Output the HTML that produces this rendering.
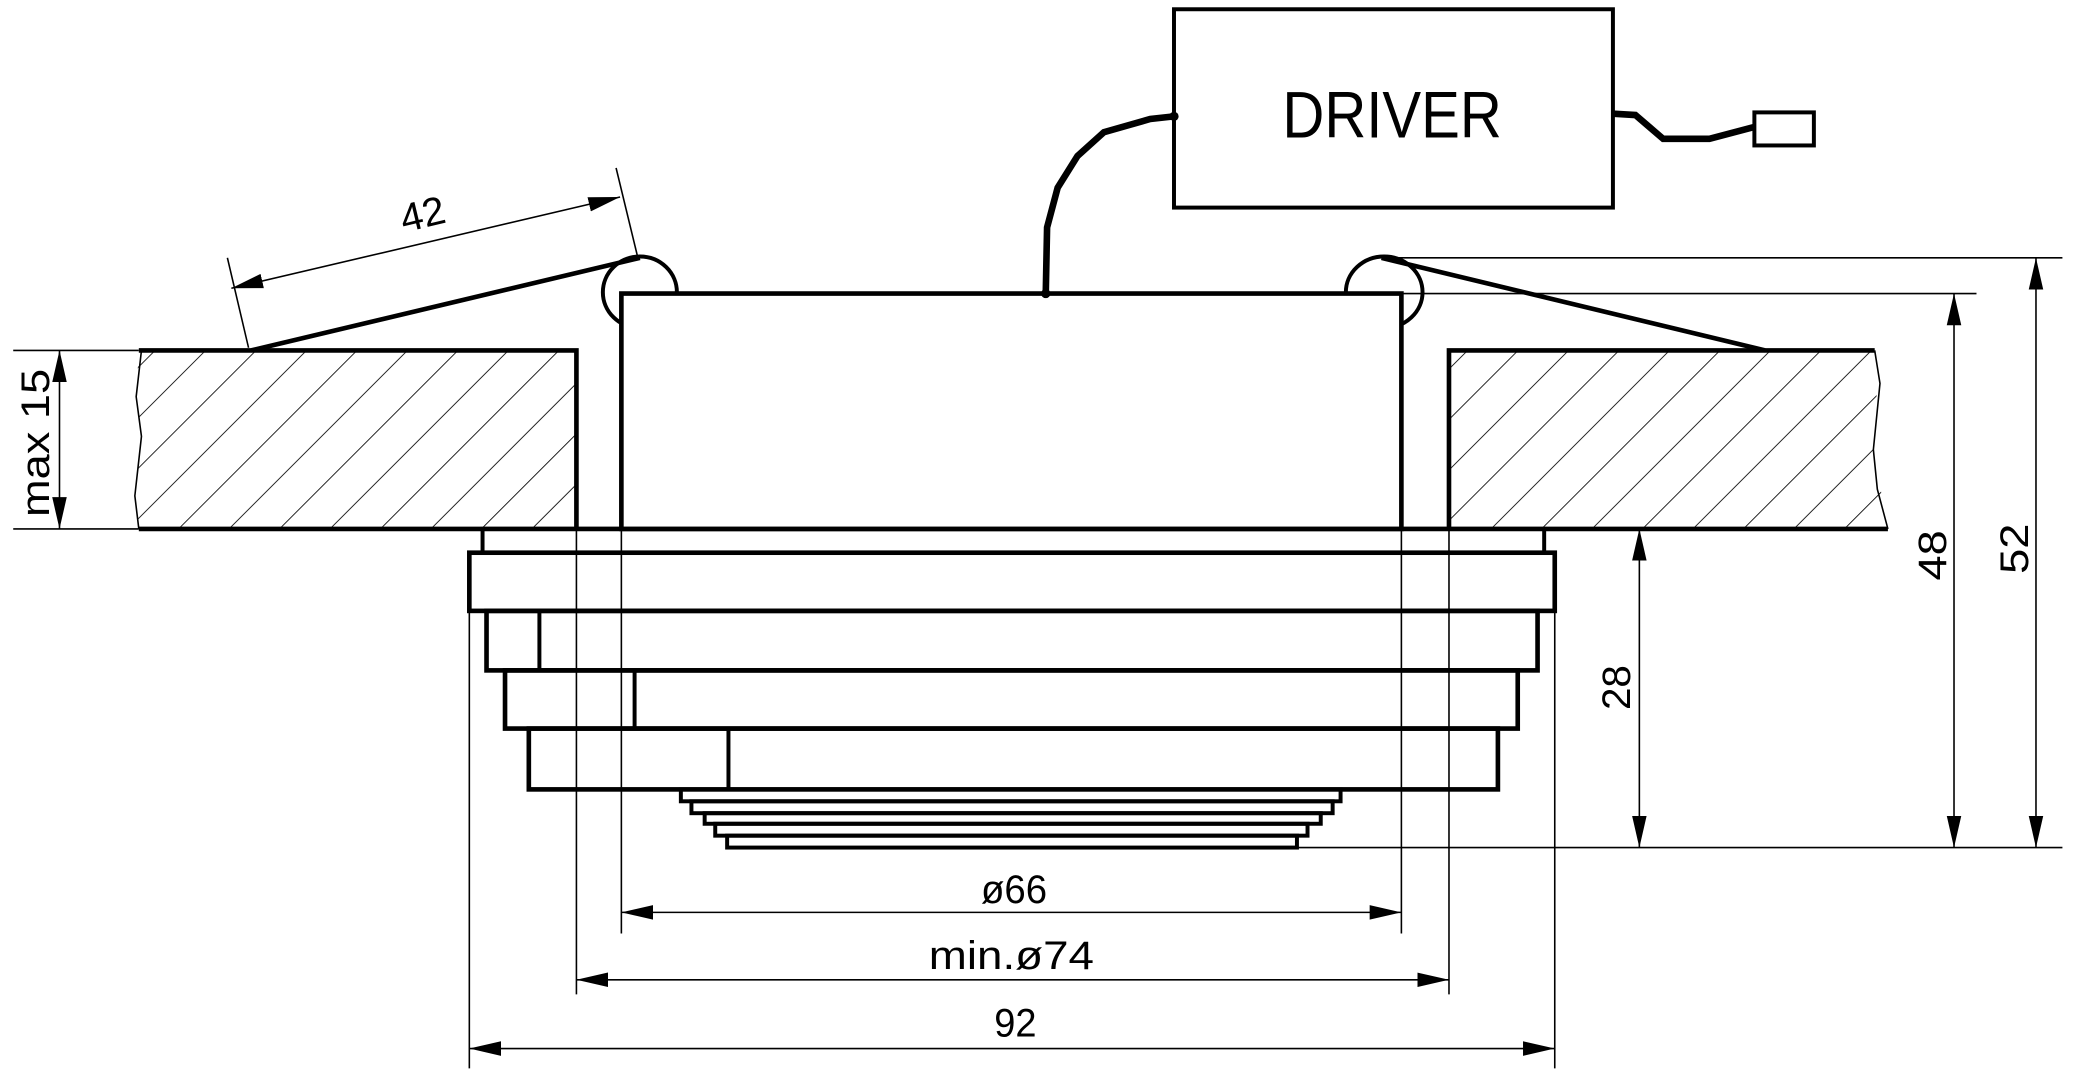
<!DOCTYPE html>
<html><head><meta charset="utf-8"><style>html,body{margin:0;padding:0;background:#fff}svg{display:block}</style></head>
<body>
<svg width="2073" height="1075" viewBox="0 0 1568 813" preserveAspectRatio="none" xmlns="http://www.w3.org/2000/svg">
<defs>
<marker id="a" markerUnits="userSpaceOnUse" markerWidth="26" markerHeight="14" refX="24" refY="6" orient="auto-start-reverse" viewBox="0 0 26 12"><path d="M0,0.5 L24,6 L0,11.5 Z" fill="#000"/></marker>
<pattern id="h" patternUnits="userSpaceOnUse" width="27" height="27" patternTransform="rotate(45)">
<line x1="0" y1="0" x2="0" y2="27" stroke="#000" stroke-width="1.3"/></pattern>
</defs>
<g font-family="'Liberation Sans',sans-serif" fill="none" stroke="#000">
<!-- slabs -->
<path d="M105,265 L436,265 L436,400 L105,400 L102,375 L107,330 L103,300 Z" fill="url(#h)" stroke="none"/>
<path d="M1096,265 L1418,265 L1420,290 L1417,340 L1428,400 L1096,400 Z" fill="url(#h)" stroke="none"/>
<path d="M105,265 L436,265 L436,400" stroke-width="3.5"/>
<path d="M1418,265 L1096,265 L1096,400" stroke-width="3.5"/>
<path d="M107,265 L103,300 L107,330 L102,375 L105,400" stroke-width="1.2"/>
<path d="M1418,265 L1422,290 L1417,340 L1420,370 L1428,400" stroke-width="1.2"/>
<line x1="105" y1="400" x2="1428" y2="400" stroke-width="3.5"/>
<!-- spring clips -->
<ellipse cx="484" cy="221" rx="28" ry="27" stroke-width="3"/>
<ellipse cx="1047" cy="221" rx="29" ry="27" stroke-width="3"/>
<!-- housing -->
<rect x="470" y="222" width="590" height="178" fill="#fff" stroke-width="3.5"/>
<line x1="484" y1="195" x2="190" y2="265" stroke-width="3.5"/>
<line x1="1045" y1="195" x2="1335" y2="265" stroke-width="3.5"/>
<!-- driver -->
<rect x="888" y="7" width="332" height="150" stroke-width="3"/>
<text x="1053" y="104" font-size="50" fill="#000" stroke="none" text-anchor="middle" textLength="166" lengthAdjust="spacingAndGlyphs">DRIVER</text>
<path d="M888,88 L870,90 L835,100 L815,118 L800,142 L792,172 L791,222" stroke-width="5"/>
<circle cx="888" cy="88" r="3.5" fill="#000" stroke="none"/>
<circle cx="791" cy="222" r="3.5" fill="#000" stroke="none"/>
<path d="M1220,86 L1237,87 L1258,105 L1293,105 L1327,96" stroke-width="5"/>
<rect x="1327" y="85" width="45" height="25" stroke-width="3"/>
<!-- lower body -->
<rect x="365" y="400" width="803" height="18" stroke-width="3"/>
<rect x="355" y="418" width="821" height="44" fill="#fff" stroke-width="3.5"/>
<rect x="368" y="462" width="795" height="45" stroke-width="3.5"/>
<line x1="408" y1="462" x2="408" y2="507" stroke-width="3"/>
<rect x="382" y="507" width="766" height="44" stroke-width="3.5"/>
<line x1="480" y1="507" x2="480" y2="551" stroke-width="3"/>
<rect x="400" y="551" width="733" height="46" stroke-width="3.5"/>
<line x1="551" y1="551" x2="551" y2="597" stroke-width="3"/>
<rect x="515" y="597" width="499" height="9" stroke-width="3"/>
<rect x="523" y="606" width="485" height="9" stroke-width="3"/>
<rect x="533" y="615" width="466" height="8" stroke-width="3"/>
<rect x="541" y="623" width="448" height="9" stroke-width="3"/>
<rect x="550" y="632" width="431" height="9" stroke-width="3"/>
<!-- extension lines -->
<g stroke-width="1.2">
<line x1="436" y1="400" x2="436" y2="752"/>
<line x1="1096" y1="400" x2="1096" y2="752"/>
<line x1="470" y1="400" x2="470" y2="706"/>
<line x1="1060" y1="400" x2="1060" y2="706"/>
<line x1="355" y1="462" x2="355" y2="808"/>
<line x1="1176" y1="462" x2="1176" y2="808"/>
<line x1="981" y1="641" x2="1560" y2="641"/>
<line x1="1060" y1="222" x2="1495" y2="222"/>
<line x1="1045" y1="195" x2="1560" y2="195"/>
<line x1="10" y1="265" x2="105" y2="265"/>
<line x1="10" y1="400" x2="105" y2="400"/>
<line x1="188" y1="263" x2="172" y2="195"/>
<line x1="482" y1="193" x2="466" y2="127"/>
<line x1="470" y1="690" x2="1060" y2="690" marker-start="url(#a)" marker-end="url(#a)"/>
<line x1="436" y1="741" x2="1096" y2="741" marker-start="url(#a)" marker-end="url(#a)"/>
<line x1="355" y1="793" x2="1176" y2="793" marker-start="url(#a)" marker-end="url(#a)"/>
<line x1="1240" y1="400" x2="1240" y2="641" marker-start="url(#a)" marker-end="url(#a)"/>
<line x1="1478" y1="222" x2="1478" y2="641" marker-start="url(#a)" marker-end="url(#a)"/>
<line x1="1540" y1="195" x2="1540" y2="641" marker-start="url(#a)" marker-end="url(#a)"/>
<line x1="45" y1="265" x2="45" y2="400" marker-start="url(#a)" marker-end="url(#a)"/>
<line x1="175" y1="218" x2="469" y2="149" marker-start="url(#a)" marker-end="url(#a)"/>
</g>
<g fill="#000" stroke="none" font-size="30">
<text x="767" y="683" text-anchor="middle" textLength="50" lengthAdjust="spacingAndGlyphs">ø66</text>
<text x="765" y="733" text-anchor="middle" textLength="125" lengthAdjust="spacingAndGlyphs">min.ø74</text>
<text x="768" y="784" text-anchor="middle" textLength="32" lengthAdjust="spacingAndGlyphs">92</text>
<text transform="translate(1233,520) rotate(-90)" text-anchor="middle" textLength="34" lengthAdjust="spacingAndGlyphs">28</text>
<text transform="translate(1472,420) rotate(-90)" text-anchor="middle" textLength="38" lengthAdjust="spacingAndGlyphs">48</text>
<text transform="translate(1534,415) rotate(-90)" text-anchor="middle" textLength="38" lengthAdjust="spacingAndGlyphs">52</text>
<text transform="translate(37,335) rotate(-90)" text-anchor="middle" textLength="112" lengthAdjust="spacingAndGlyphs">max 15</text>
<text transform="translate(322,172) rotate(-13.5)" text-anchor="middle" textLength="34" lengthAdjust="spacingAndGlyphs">42</text>
</g>
</g>
</svg>
</body></html>
